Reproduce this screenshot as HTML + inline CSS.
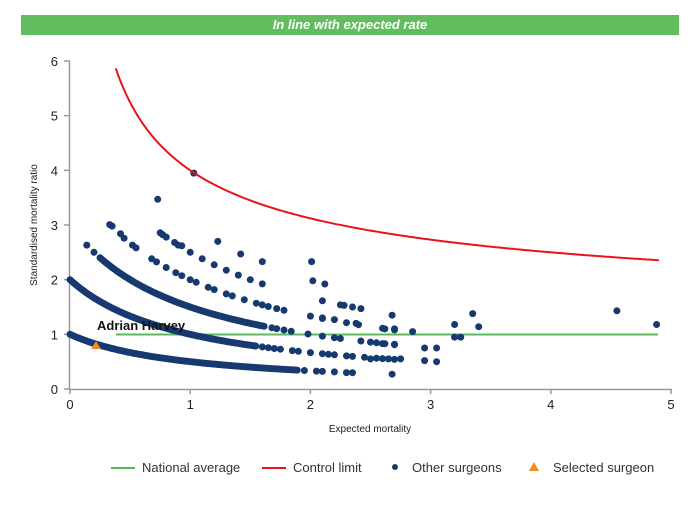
<!DOCTYPE html>
<html><head><meta charset="utf-8"><style>
body{margin:0;background:#fff;width:700px;height:500px;overflow:hidden;font-family:"Liberation Sans",Arial,sans-serif}
</style></head><body>
<svg id="s" width="700" height="500" xmlns="http://www.w3.org/2000/svg" font-family="Liberation Sans, Arial, sans-serif">
<rect x="21" y="15" width="658" height="20" fill="#62bd5e"/>
<text x="350" y="29" fill="#fff" font-size="13" font-weight="bold" font-style="italic" text-anchor="middle">In line with expected rate</text>
<g stroke="#999" stroke-width="1.5" fill="none">
<line x1="69.5" y1="61" x2="69.5" y2="389"/>
<line x1="69" y1="389.5" x2="672" y2="389.5"/>
</g>
<g id="ticks" stroke="#999" stroke-width="1.5"></g>
<g font-size="13" fill="#222" id="lbl"></g>
<text x="370" y="432" font-size="10" fill="#222" text-anchor="middle">Expected mortality</text>
<text transform="translate(37,225) rotate(-90)" font-size="10" fill="#222" text-anchor="middle">Standardised mortality ratio</text>
<line x1="116" y1="334.5" x2="658" y2="334.5" stroke="#5cb85c" stroke-width="2"/>
<g id="dots" fill="#163a70"></g>
<path id="cl" fill="none" stroke="#e8141c" stroke-width="2"/>
<polygon points="96,341 91,349 101,349" fill="#f28a1c"/>
<text x="97" y="330" font-size="13" font-weight="bold" fill="#111">Adrian Harvey</text>
<g font-size="13" fill="#333">
<line x1="111" y1="468" x2="135" y2="468" stroke="#5cb85c" stroke-width="2"/>
<text x="142" y="472">National average</text>
<line x1="262" y1="468" x2="286" y2="468" stroke="#e8141c" stroke-width="2"/>
<text x="293" y="472">Control limit</text>
<circle cx="395" cy="467" r="3" fill="#163a70"/>
<text x="412" y="472">Other surgeons</text>
<polygon points="534,462 529,471 539,471" fill="#f28a1c"/>
<text x="553" y="472">Selected surgeon</text>
</g>
</svg>
<script>
var X=function(v){return 70+v*120.2},Y=function(v){return 389-v*54.67};
var ns="http://www.w3.org/2000/svg";
function el(p,t,a,txt){var e=document.createElementNS(ns,t);for(var k in a)e.setAttribute(k,a[k]);if(txt!=null)e.textContent=txt;document.getElementById(p).appendChild(e);}
for(var i=0;i<=5;i++){el("ticks","line",{x1:X(i),y1:389,x2:X(i),y2:394});el("lbl","text",{x:X(i),y:409,"text-anchor":"middle"},i);}
for(var i=0;i<=6;i++){el("ticks","line",{x1:64,y1:Y(i),x2:70,y2:Y(i)});el("lbl","text",{x:58,y:Y(i)+5,"text-anchor":"end"},i);}
var d="";for(var x=0.38;x<=4.9;x+=0.02){var y=1+3/Math.sqrt(x);if(y>6)y=6;d+=(d?"L":"M")+X(x).toFixed(1)+","+Y(y).toFixed(1);}
document.getElementById("cl").setAttribute("d",d);
function dot(x,y){el("dots","circle",{cx:X(x).toFixed(1),cy:Y(y).toFixed(1),r:3.5});}
function band(n,xs){xs.forEach(function(x){dot(x,n/(1+x));});}
var a=[];for(var x=0;x<1.9;x+=0.015)a.push(x);band(1,a.concat([1.95,2.05,2.1,2.2,2.35]));
a=[];for(var x=0;x<1.55;x+=0.015)a.push(x);band(2,a.concat([1.6,1.65,1.7,1.75,1.85,1.9,2.0,2.1,2.15,2.2,2.3,2.35,2.45,2.55,2.6,2.7]));
a=[];for(var x=0.25;x<1.62;x+=0.015)a.push(x);band(3,[0.14,0.2].concat(a,[1.68,1.72,1.78,1.84,1.98,2.1,2.2,2.25,2.42,2.5,2.55,2.62,2.7]));
band(4,[0.33,0.45,0.52,0.55,0.68,0.72,0.8,0.88,0.93,1.0,1.05,1.15,1.2,1.3,1.35,1.45,1.55,1.6,1.65,1.72,1.78,2.0,2.1,2.3,2.4,2.6,2.7]);
band(5,[0.75,0.77,0.8,0.9,1.0,1.1,1.2,1.3,1.4,1.5,1.6,2.1,2.25]);
var extra=[[0.35,2.98],[0.42,2.84],[0.73,3.47],[0.87,2.68],[0.93,2.62],[1.03,3.95],[1.23,2.7],[1.42,2.47],[1.6,2.33],[2.01,2.33],[2.02,1.98],[2.12,1.92],[2.28,1.53],[2.35,1.5],[2.42,1.47],[2.1,1.3],[2.2,1.27],[2.38,1.2],[2.62,1.1],[2.68,1.35],[2.7,1.1],[2.85,1.05],[3.2,1.18],[3.25,0.95],[3.35,1.38],[3.4,1.14],[3.2,0.95],[4.55,1.43],[4.88,1.18],[2.95,0.75],[3.05,0.75],[2.95,0.52],[3.05,0.5],[2.68,0.27],[2.6,0.83],[2.7,0.82],[2.65,0.55],[2.75,0.55],[2.5,0.55],[2.3,0.3]];
extra.forEach(function(p){dot(p[0],p[1]);});
</script>
</body></html>
